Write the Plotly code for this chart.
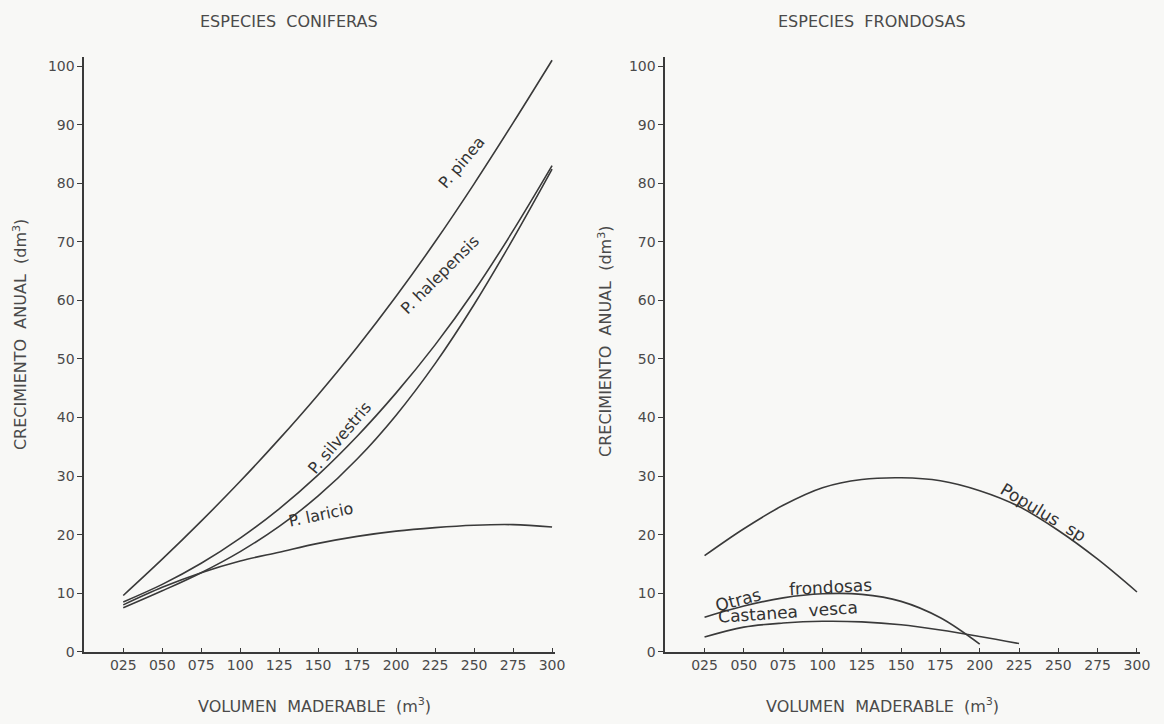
import plotly.graph_objects as go

# ---------------- data ----------------
x_vol = [25, 50, 75, 100, 125, 150, 175, 200, 225, 250, 275, 300]
x_ticktext = ["025", "050", "075", "100", "125", "150", "175", "200", "225", "250", "275", "300"]
y_ticks = [0, 10, 20, 30, 40, 50, 60, 70, 80, 90, 100]

# Coníferas
p_pinea = [9.6, 15.8, 22.3, 29.1, 36.3, 43.9, 52.0, 60.7, 70.0, 79.9, 90.3, 101.0]
p_halepensis = [8.5, 11.5, 15.1, 19.4, 24.4, 30.2, 36.8, 44.2, 52.4, 61.6, 71.9, 83.0]
p_silvestris = [7.5, 10.4, 13.5, 17.1, 21.4, 26.6, 32.9, 40.4, 49.2, 59.3, 70.5, 82.4]
p_laricio = [8, 11, 13.5, 15.5, 17, 18.5, 19.7, 20.6, 21.2, 21.6, 21.7, 21.3]

# Frondosas
populus_x = [25, 50, 75, 100, 125, 150, 175, 200, 225, 250, 275, 300]
populus = [16.4, 21, 25, 28, 29.4, 29.7, 29.2, 27.5, 24.8, 20.7, 15.8, 10.2]
otras_x = [25, 50, 75, 100, 125, 150, 175, 200]
otras = [5.9, 7.8, 9.2, 9.9, 9.8, 8.6, 5.8, 1.3]
castanea_x = [25, 50, 75, 100, 125, 150, 175, 200, 225]
castanea = [2.5, 4.2, 4.9, 5.2, 5.1, 4.6, 3.7, 2.6, 1.4]

W, H = 1164, 724
LINE = "#3a3a3a"
TXT = "#4a4a4a"
FONT = "DejaVu Sans"

fig = go.Figure()

def add_curve(x, y, xa, ya):
    fig.add_trace(go.Scatter(x=x, y=y, mode="lines", xaxis=xa, yaxis=ya,
                             line=dict(color=LINE, width=1.6, shape="spline", smoothing=1.0),
                             showlegend=False, hoverinfo="skip"))

add_curve(x_vol, p_pinea, "x", "y")
add_curve(x_vol, p_halepensis, "x", "y")
add_curve(x_vol, p_silvestris, "x", "y")
add_curve(x_vol, p_laricio, "x", "y")
add_curve(populus_x, populus, "x2", "y2")
add_curve(otras_x, otras, "x2", "y2")
add_curve(castanea_x, castanea, "x2", "y2")

def xdom(a, b):
    return [a / W, b / W]

y_dom = [1 - 659 / H, 1 - 58 / H]

xaxis_common = dict(
    range=[0, 302], tickvals=x_vol, ticktext=x_ticktext,
    showline=True, linecolor=LINE, linewidth=1.6,
    ticks="inside", ticklen=4, tickcolor=LINE, tickwidth=1.2,
    showgrid=False, zeroline=False,
    tickfont=dict(family=FONT, size=14, color=TXT),
)
yaxis_common = dict(
    range=[0, 101.5], tickvals=y_ticks,
    showline=True, linecolor=LINE, linewidth=1.6,
    ticks="outside", ticklen=5, tickcolor=LINE, tickwidth=1.2,
    showgrid=False, zeroline=False,
    tickfont=dict(family=FONT, size=14, color=TXT),
)

fig.update_layout(
    width=W, height=H,
    margin=dict(l=0, r=0, t=0, b=0),
    paper_bgcolor="#f8f8f6", plot_bgcolor="rgba(0,0,0,0)",
    xaxis=dict(domain=xdom(85, 560), anchor="y", **xaxis_common),
    yaxis=dict(domain=y_dom, anchor="x", **yaxis_common),
    xaxis2=dict(domain=xdom(671, 1150), anchor="y2", **xaxis_common),
    yaxis2=dict(domain=y_dom, anchor="x2", **yaxis_common),
)

ann = []
def paper_text(text, x, y, size=16, angle=0):
    ann.append(dict(text=text, x=x / W, y=1 - y / H, xref="paper", yref="paper",
                    xanchor="center", yanchor="middle",
                    showarrow=False, textangle=angle,
                    font=dict(family=FONT, size=size, color=TXT)))

paper_text("ESPECIES  CONIFERAS", 292, 22)
paper_text("ESPECIES  FRONDOSAS", 880, 22)
paper_text("VOLUMEN  MADERABLE  (m<sup>3</sup>)", 317, 713)
paper_text("VOLUMEN  MADERABLE  (m<sup>3</sup>)", 890, 713)
paper_text("CRECIMIENTO  ANUAL  (dm<sup>3</sup>)", 20, 338, angle=-90)
paper_text("CRECIMIENTO  ANUAL  (dm<sup>3</sup>)", 610, 345, angle=-90)

def data_text(text, x, y, xr, yr, angle, size=16):
    ann.append(dict(text=text, x=x, y=y, xref=xr, yref=yr, showarrow=False,
                    xanchor="center", yanchor="middle",
                    textangle=angle, font=dict(family=FONT, size=size, color="#333333")))

data_text("P. pinea", 242, 83.5, "x", "y", -50)
data_text("P. halepensis", 228, 64.5, "x", "y", -45)
data_text("P. silvestris", 164, 36.5, "x", "y", -50)
data_text("P. laricio", 152, 23.5, "x", "y", -12)
data_text("Populus  sp", 240, 23.8, "x2", "y2", 31, size=17)
data_text("Otras", 46, 8.8, "x2", "y2", -15, size=17)
data_text("frondosas", 105, 11.1, "x2", "y2", -3, size=17)
data_text("Castanea  vesca", 78, 6.7, "x2", "y2", -4, size=17)

fig.update_layout(annotations=ann)

post = """
var gd = document.getElementById('{plot_id}');
document.documentElement.style.cssText = 'margin:0;padding:0;height:100%;overflow:hidden';
document.body.style.cssText = 'margin:0;padding:0;height:100%;overflow:hidden';
if (gd.parentElement) { gd.parentElement.style.height = '100%'; }
Plotly.relayout(gd, {width: window.innerWidth, height: window.innerHeight});
"""

fig.write_html("out.html", config={"displayModeBar": False}, post_script=post)
